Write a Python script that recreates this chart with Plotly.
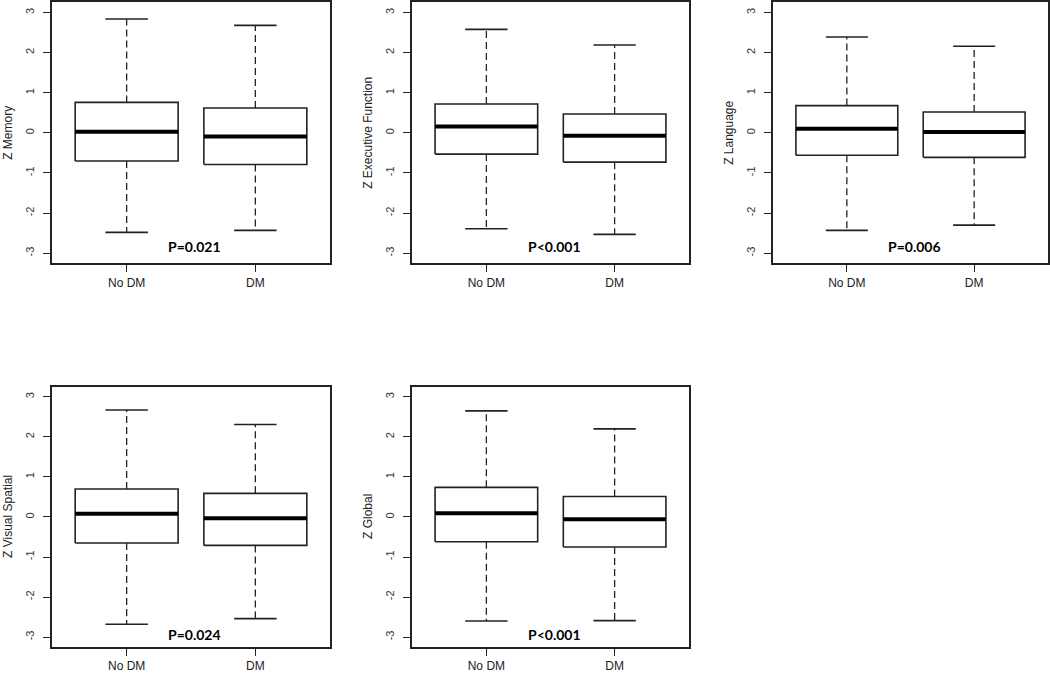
import plotly.graph_objects as go

W, H = 1050, 673

groups = ["No DM", "DM"]
titles = ["Z Memory", "Z Executive Function", "Z Language", "Z Visual Spatial", "Z Global"]
pvalues = ["P=0.021", "P<0.001", "P=0.006", "P=0.024", "P<0.001"]

# [No DM, DM] for each domain
upper = [[2.84, 2.68], [2.58, 2.19], [2.39, 2.16], [2.67, 2.31], [2.65, 2.20]]
q3 = [[0.76, 0.62], [0.72, 0.47], [0.68, 0.52], [0.70, 0.59], [0.74, 0.51]]
median = [[0.03, -0.09], [0.16, -0.07], [0.10, 0.02], [0.08, -0.03], [0.09, -0.06]]
q1 = [[-0.70, -0.79], [-0.53, -0.73], [-0.56, -0.61], [-0.65, -0.71], [-0.62, -0.75]]
lower = [[-2.48, -2.43], [-2.39, -2.53], [-2.43, -2.30], [-2.68, -2.54], [-2.60, -2.59]]

yticks = [-3, -2, -1, 0, 1, 2, 3]
yticktext = ["-3", "-2", "-1", "0", "1", "2", "3"]

# panel frames in pixels: (left, right, top, bottom)
frames = [(52, 330, 0.5, 262), (412, 689, 0.5, 262), (773, 1048, 0.5, 262),
          (52, 330, 386, 647), (412, 689, 386, 647)]
p_y = [-2.84, -2.84, -2.84, -2.93, -2.93]

BOXW = 0.4
CAPW = 0.165
pos = [1, 2]

fig = go.Figure()
layout = dict(width=W, height=H, margin=dict(l=0, r=0, t=0, b=0),
              paper_bgcolor="white", plot_bgcolor="white", showlegend=False,
              annotations=[])

for i in range(5):
    xa = "x" if i == 0 else f"x{i+1}"
    ya = "y" if i == 0 else f"y{i+1}"
    l, r, t, b = frames[i]
    for g in range(2):
        x0 = pos[g]
        # whiskers (dashed)
        for ya_, yb_ in [(q3[i][g], upper[i][g]), (q1[i][g], lower[i][g])]:
            fig.add_trace(go.Scatter(x=[x0, x0], y=[ya_, yb_], mode="lines",
                                     line=dict(color="#222", width=1.3, dash="7px,4px"),
                                     xaxis=xa, yaxis=ya, hoverinfo="skip"))
        # caps
        for yv in [upper[i][g], lower[i][g]]:
            fig.add_trace(go.Scatter(x=[x0 - CAPW, x0 + CAPW], y=[yv, yv], mode="lines",
                                     line=dict(color="#222", width=1.6),
                                     xaxis=xa, yaxis=ya, hoverinfo="skip"))
        # box
        fig.add_trace(go.Scatter(x=[x0 - BOXW, x0 + BOXW, x0 + BOXW, x0 - BOXW, x0 - BOXW],
                                 y=[q1[i][g], q1[i][g], q3[i][g], q3[i][g], q1[i][g]],
                                 mode="lines", fill="toself", fillcolor="white",
                                 line=dict(color="#222", width=1.6),
                                 xaxis=xa, yaxis=ya, hoverinfo="skip"))
        # median
        fig.add_trace(go.Scatter(x=[x0 - BOXW, x0 + BOXW], y=[median[i][g], median[i][g]],
                                 mode="lines", line=dict(color="black", width=4),
                                 xaxis=xa, yaxis=ya, hoverinfo="skip"))
    axkey = "xaxis" if i == 0 else f"xaxis{i+1}"
    aykey = "yaxis" if i == 0 else f"yaxis{i+1}"
    layout[axkey] = dict(domain=[l / W, r / W], range=[0.42, 2.58], anchor=ya,
                         tickvals=pos, ticktext=groups, ticks="outside", ticklen=7,
                         tickwidth=1.3, tickcolor="#222", showline=True, linecolor="#222",
                         linewidth=2, mirror=True, showgrid=False, zeroline=False,
                         tickfont=dict(family="Liberation Sans", size=12, color="#222"))
    layout[aykey] = dict(domain=[1 - b / H, 1 - t / H], range=[-3.25, 3.25], anchor=xa,
                         tickvals=yticks, ticktext=yticktext, ticks="outside", ticklen=7,
                         tickwidth=1.3, ticklabelstandoff=5,
                         tickcolor="#222", tickangle=-90, showline=True, linecolor="#222",
                         linewidth=2, mirror=True, showgrid=False, zeroline=False,
                         tickfont=dict(family="Liberation Sans", size=11, color="#333"))
    layout["annotations"].append(dict(
        text=pvalues[i], x=1.53, y=p_y[i], xref=xa, yref=ya, showarrow=False,
        font=dict(family="Lato", size=14, color="black", weight="bold")))
    layout["annotations"].append(dict(
        text=titles[i], x=(l - 44) / W, y=1 - ((t + b) / 2) / H, xref="paper", yref="paper",
        textangle=-90, showarrow=False, xanchor="center", yanchor="middle",
        font=dict(family="Liberation Sans", size=12, color="#222")))

fig.update_layout(**layout)
fig.write_html("out.html", config={"displayModeBar": False},
               post_script="document.body.style.margin='0';")
